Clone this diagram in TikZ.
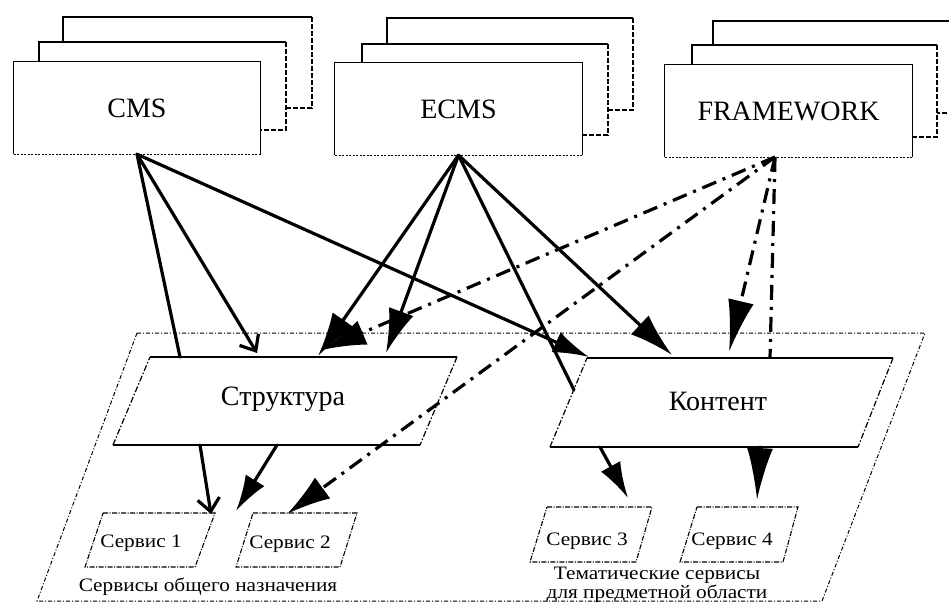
\documentclass[tikz,border=0pt]{standalone}
\usepackage{fontspec}
\setmainfont{Liberation Serif}
\newfontfamily\labelfont[FakeStretch=1.12]{Liberation Serif}
\usetikzlibrary{arrows.meta}

% back sheet of a stack: solid top/left, dashed right/bottom
\newcommand\sheetbox[4]{%
  \fill[white] (#1,#2) rectangle (#3,#4);
  \draw[edgesolid] (#1,#4) -- (#1,#2) -- (#3,#2);
  \draw[edgedash] (#3,#2) -- (#3,#4) -- (#1,#4);
}
% front sheet outline drawn from the node's anchors
\newcommand\frontedges[1]{%
  \draw[edgesolid] (#1.south west) -- (#1.north west) -- (#1.north east) -- (#1.south east);
  \draw[edgedot] (#1.south east) -- (#1.south west);
}

\begin{document}
\begin{tikzpicture}[x=1pt,y=-1pt,
  edgesolid/.style={line width=1.1pt},
  edgedash/.style={line width=1.2pt, dash pattern=on 5pt off 2pt},
  edgedot/.style={line width=1pt, dash pattern=on 2pt off 1.5pt},
  frontbox/.style={fill=white, minimum width=247pt, minimum height=92pt, inner sep=0pt,
    font=\fontsize{28}{30}\selectfont},
  framestyle/.style={line width=1pt, dash pattern=on 4pt off 2pt on 1pt off 2pt},
  parside/.style={line width=1.2pt, dash pattern=on 6pt off 2pt on 1.5pt off 2pt},
  partop/.style={line width=1.4pt},
  svcbox/.style={line width=1.1pt, dash pattern=on 5pt off 1.5pt on 1pt off 1.5pt},
  bigtext/.style={font=\fontsize{28}{30}\selectfont},
  svctext/.style={font=\labelfont\fontsize{19}{20}\selectfont},
  grouptext/.style={font=\labelfont\fontsize{19}{14.5}\selectfont, align=center},
  conn/.style={line width=3.2pt, line cap=round},
  dashdot/.style={conn, line cap=butt, dash pattern=on 15pt off 7pt on 3pt off 7pt},
  openhead/.style={-{Straight Barb[length=13pt,width=22pt]}},
  medhead/.style={-{Latex[length=36pt,width=22pt]}},
  bighead/.style={-{Latex[length=44pt,width=26pt]}},
  longhead/.style={-{Latex[length=52pt,width=26pt]}},
]
\clip (0,0) rectangle (949,606);
\fill[white] (0,0) rectangle (949,606);

% ---- stacked sources ----
\sheetbox{63}{17}{312}{108}
\sheetbox{39}{42}{286}{130}
\node[frontbox] (cms) at (137,108) {CMS};
\frontedges{cms}

\sheetbox{387}{18}{633}{110}
\sheetbox{362}{44}{608}{135}
\node[frontbox] (ecms) at (458.5,109) {ECMS};
\frontedges{ecms}

\sheetbox{713}{21}{960}{113}
\sheetbox{692}{45}{937}{137}
\node[frontbox] (fw) at (788.5,111) {FRAMEWORK};
\frontedges{fw}

% ---- outer service area ----
\draw[framestyle] (137,333) -- (925,333) -- (822,601) -- (37,601) -- cycle;

% ---- Структура / Контент ----
\draw[partop] (150,357) -- (457,357);
\draw[parside] (457,357) -- (420,445);
\draw[partop] (420,445) -- (113,445);
\draw[parside] (113,445) -- (150,357);
\node[bigtext] (str) at (283,399) {Структура};

\draw[partop] (587,358) -- (893,358);
\draw[parside] (893,358) -- (858,447);
\draw[partop] (858,447) -- (550,447);
\draw[parside] (550,447) -- (587,358);
\node[bigtext] (cnt) at (718,401) {Контент};

% ---- services ----
\draw[svcbox] (103,513) -- (215,513) -- (195,567) -- (85,567) -- cycle;
\node[svctext] (svc1) at (141,543) {Сервис 1};
\draw[svcbox] (253,513) -- (357,513) -- (340,567) -- (236,567) -- cycle;
\node[svctext] (svc2) at (290,544) {Сервис 2};
\draw[svcbox] (547,507) -- (652,507) -- (636,562) -- (530,562) -- cycle;
\node[svctext] (svc3) at (587,541) {Сервис 3};
\draw[svcbox] (697,507) -- (798,507) -- (783,562) -- (680,562) -- cycle;
\node[svctext] (svc4) at (732,541) {Сервис 4};

\node[grouptext] (grp1) at (208,587) {Сервисы общего назначения};
\node[grouptext] (grp2) at (657,585) {Тематические сервисы\\для предметной области};

% ---- connector end points ----
\coordinate (fwsrc) at (775,157);
\coordinate (stra) at (180,357);
\coordinate (strb) at (257,353);
\coordinate (strc) at (318,356);
\coordinate (strd) at (386,353);
\coordinate (stre) at (322,350);
\coordinate (cnta) at (589,357);
\coordinate (cntb) at (574,390);
\coordinate (cntc) at (672,355);
\coordinate (cntd) at (729,352);
\coordinate (cnte) at (770,358);
\coordinate (strout1) at (200,445);
\coordinate (strout2) at (277,445);
\coordinate (svcin1) at (211,514);
\coordinate (svcin12) at (236,511);
\coordinate (svcin2) at (287,514);
\coordinate (cntout1) at (600,447);
\coordinate (cntout2) at (760,447);
\coordinate (svcin3) at (628,498);
\coordinate (svcin4) at (757,500);

% ---- CMS links ----
\draw[conn] (cms.south) -- (stra);
\draw[conn, openhead] (cms.south) -- (strb);
\draw[conn, medhead] (cms.south) -- (cnta);

% ---- ECMS links ----
\draw[conn, bighead] (ecms.south) -- (strc);
\draw[conn, bighead] (ecms.south) -- (strd);
\draw[conn] (ecms.south) -- (cntb);
\draw[conn, bighead] (ecms.south) -- (cntc);

% ---- FRAMEWORK links ----
\draw[dashdot, bighead] (fwsrc) -- (stre);
\draw[dashdot, bighead] (fwsrc) -- (svcin2);
\draw[dashdot, longhead] (fwsrc) -- (cntd);
\draw[dashdot] (fwsrc) -- (cnte);

% ---- down to services ----
\draw[conn, openhead] (strout1) -- (svcin1);
\draw[conn, medhead] (strout2) -- (svcin12);
\draw[conn, medhead] (cntout1) -- (svcin3);
\draw[conn, longhead] (cntout2) -- (svcin4);
\end{tikzpicture}
\end{document}
